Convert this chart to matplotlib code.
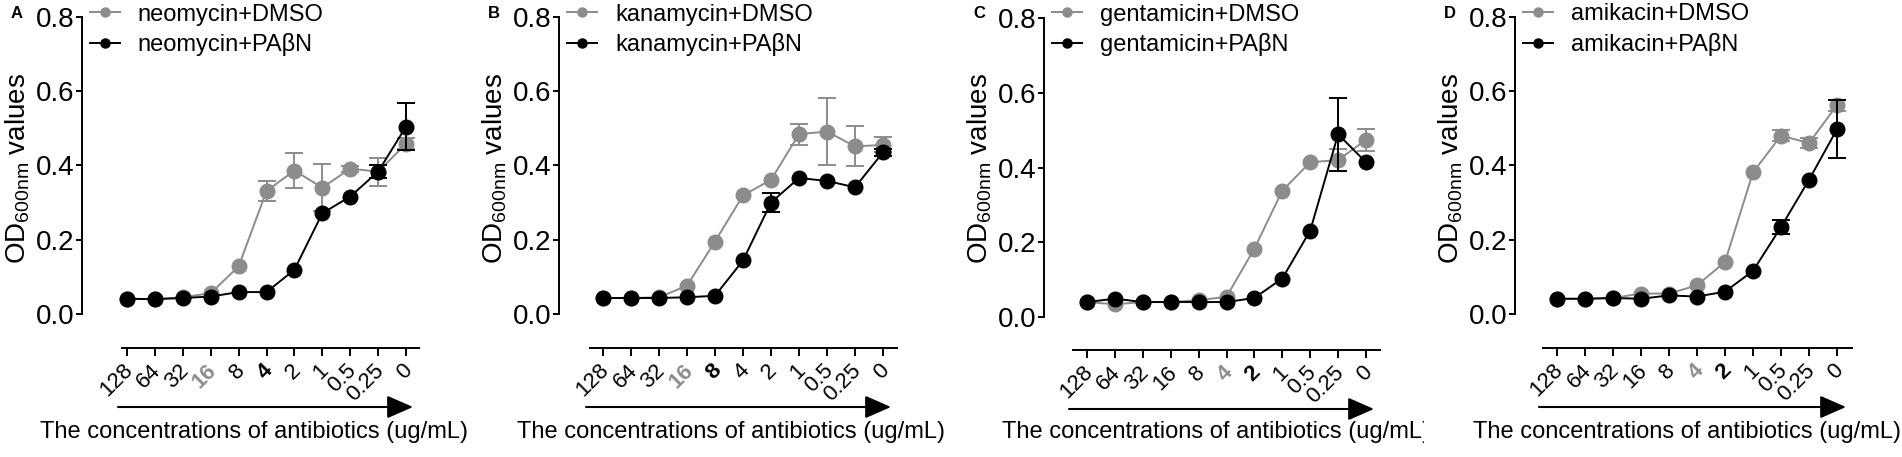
import numpy as np
import matplotlib
matplotlib.use('Agg')
from matplotlib import pyplot as plt
from matplotlib.transforms import Bbox, ScaledTranslation

plt.rcParams['font.family'] = ['Liberation Sans', 'DejaVu Sans']
plt.rcParams['mathtext.fontset'] = 'custom'
plt.rcParams['mathtext.rm'] = 'Liberation Sans'

# ---------------- data ----------------
conc = ['128', '64', '32', '16', '8', '4', '2', '1', '0.5', '0.25', '0']
drugs = ['neomycin', 'kanamycin', 'gentamicin', 'amikacin']
letters = ['A', 'B', 'C', 'D']

neo_dmso = [0.041, 0.040, 0.045, 0.056, 0.128, 0.331, 0.386, 0.340, 0.391, 0.383, 0.458]
neo_dmso_sem = [0, 0, 0, 0, 0, 0.028, 0.048, 0.063, 0.008, 0.038, 0.015]
neo_pabn = [0.041, 0.040, 0.043, 0.047, 0.059, 0.059, 0.119, 0.271, 0.316, 0.383, 0.504]
neo_pabn_sem = [0, 0, 0, 0, 0, 0, 0, 0, 0, 0.018, 0.063]

kan_dmso = [0.043, 0.043, 0.045, 0.076, 0.195, 0.319, 0.361, 0.484, 0.491, 0.451, 0.455]
kan_dmso_sem = [0, 0, 0, 0, 0, 0, 0, 0.028, 0.089, 0.054, 0.020]
kan_pabn = [0.043, 0.043, 0.043, 0.045, 0.049, 0.144, 0.300, 0.366, 0.358, 0.341, 0.435]
kan_pabn_sem = [0, 0, 0, 0, 0, 0, 0.026, 0, 0, 0, 0.010]

gen_dmso = [0.040, 0.034, 0.040, 0.040, 0.045, 0.054, 0.183, 0.338, 0.414, 0.420, 0.474]
gen_dmso_sem = [0, 0, 0, 0, 0, 0, 0, 0, 0, 0.030, 0.030]
gen_pabn = [0.040, 0.049, 0.040, 0.040, 0.040, 0.040, 0.051, 0.103, 0.231, 0.489, 0.414]
gen_pabn_sem = [0, 0, 0, 0, 0, 0, 0, 0, 0, 0.098, 0]

ami_dmso = [0.041, 0.041, 0.043, 0.055, 0.055, 0.077, 0.140, 0.381, 0.480, 0.460, 0.562]
ami_dmso_sem = [0, 0, 0, 0, 0, 0, 0, 0, 0.015, 0.013, 0.015]
ami_pabn = [0.041, 0.041, 0.043, 0.041, 0.050, 0.047, 0.060, 0.116, 0.234, 0.361, 0.497]
ami_pabn_sem = [0, 0, 0, 0, 0, 0, 0, 0, 0.018, 0, 0.078]

dmso = [neo_dmso, kan_dmso, gen_dmso, ami_dmso]
dmso_sem = [neo_dmso_sem, kan_dmso_sem, gen_dmso_sem, ami_dmso_sem]
pabn = [neo_pabn, kan_pabn, gen_pabn, ami_pabn]
pabn_sem = [neo_pabn_sem, kan_pabn_sem, gen_pabn_sem, ami_pabn_sem]

# highlighted tick labels: (grey bold index, black bold index)
highlight = [(3, 5), (3, 4), (5, 6), (5, 6)]

# ---------------- layout (pixels) ----------------
W, H = 1902, 457
# y axis x, x-line start, x-line end, first tick, last tick, top(0.8), zero, x-line y
layout = [
    (82, 122, 419, 127, 406, 16.7, 314, 348),
    (559, 590, 897, 603, 883, 16.7, 314, 348),
    (1044, 1073, 1380, 1087, 1366, 18, 317, 350),
    (1515, 1543, 1852, 1557, 1837, 16.7, 314, 348),
]

grey = '#8c8c8c'
fig = plt.figure(figsize=(W / 100, H / 100), dpi=100)
shift = ScaledTranslation(3 / 100, 0, fig.dpi_scale_trans)

for i in range(4):
    yax, xs, xe, t0, t1, ptop, pzero, pbot = layout[i]
    ax = fig.add_axes([yax / W, 1 - pbot / H, (xe - yax) / W, (pbot - ptop) / H])
    s = (t1 - t0) / 10
    ax.set_xlim((yax - t0) / s, (xe - t0) / s)
    ax.set_ylim(-(pbot - pzero) / (pzero - ptop) * 0.8, 0.8)
    for sp in ['top', 'right']:
        ax.spines[sp].set_visible(False)
    ax.spines['left'].set_bounds(0, 0.8)
    ax.spines['bottom'].set_bounds((xs - t0) / s, (xe - t0) / s)
    for sp in ['left', 'bottom']:
        ax.spines[sp].set_linewidth(1.4)
    ax.patch.set_alpha(0)

    x = np.arange(len(conc))
    y1 = np.array(dmso[i]); e1 = np.array(dmso_sem[i])
    y2 = np.array(pabn[i]); e2 = np.array(pabn_sem[i])

    m1 = e1 > 0
    ax.errorbar(x[m1], y1[m1], yerr=e1[m1], fmt='none', ecolor=grey,
                elinewidth=1.4, capsize=6.5, capthick=1.4, zorder=2, clip_on=False)
    l1, = ax.plot(x, y1, '-o', color=grey, lw=1.4, ms=10.5, zorder=3,
                  clip_on=False, label=drugs[i] + '+DMSO')
    m2 = e2 > 0
    ax.errorbar(x[m2], y2[m2], yerr=e2[m2], fmt='none', ecolor='black',
                elinewidth=1.4, capsize=6.5, capthick=1.4, zorder=4, clip_on=False)
    l2, = ax.plot(x, y2, '-o', color='black', lw=1.4, ms=10.5, zorder=5,
                  clip_on=False, label=drugs[i] + '+PA\u03b2N')

    ax.set_yticks([0.0, 0.2, 0.4, 0.6, 0.8])
    ax.set_yticklabels(['0.0', '0.2', '0.4', '0.6', '0.8'], fontsize=20)
    ax.tick_params(axis='y', length=4.5, width=1.4, pad=1)
    ax.set_xticks(x)
    ax.set_xticklabels(conc, fontsize=16, rotation=45, ha='right', va='center',
                       rotation_mode='anchor')
    ax.tick_params(axis='x', length=5.8, width=1.4, pad=8)
    g, b = highlight[i]
    lbls = ax.get_xticklabels()
    for lb in lbls:
        lb.set_transform(lb.get_transform() + shift)
    lbls[g].set_color(grey); lbls[g].set_fontweight('bold')
    lbls[b].set_fontweight('bold')

    # arrow below the tick labels
    fw = xe - yax
    fh = pbot - ptop
    ax.annotate('', xy=((xe - 6 - yax) / fw, -59 / fh),
                xytext=((xs - 4 - yax) / fw, -59 / fh),
                xycoords='axes fraction', textcoords='axes fraction',
                arrowprops=dict(arrowstyle='-|>,head_length=0.8,head_width=0.35',
                                mutation_scale=20, lw=1.5, color='black',
                                shrinkA=0, shrinkB=0))

    xl = fig.text((yax + 172) / W, 1 - 432 / H,
                  'The concentrations of antibiotics (ug/mL)',
                  fontsize=17, ha='center', va='center')
    if i == 2:
        # panel C's label is cut off by panel D in the original
        xl.set_clip_box(Bbox.from_extents(0, 0, 1424, H))
        xl.set_clip_on(True)

    fig.text((yax - 64) / W, 1 - 168 / H, 'OD$_{\\mathrm{600nm}}$ values',
             fontsize=20, rotation=90, ha='center', va='center')
    fig.text((yax - 65) / W, 1 - 14 / H, letters[i], fontsize=12,
             fontweight='bold', ha='center', va='center')

    ax.legend(handles=[l1, l2], loc='upper left',
              bbox_to_anchor=((yax + 8) / W, 1 - 3.5 / H),
              bbox_transform=fig.transFigure, frameon=False, fontsize=17,
              markerscale=0.62, handlelength=1.27, handletextpad=0.76,
              labelspacing=0.32, borderpad=0, borderaxespad=0)

fig.savefig('out.png', dpi=100)
